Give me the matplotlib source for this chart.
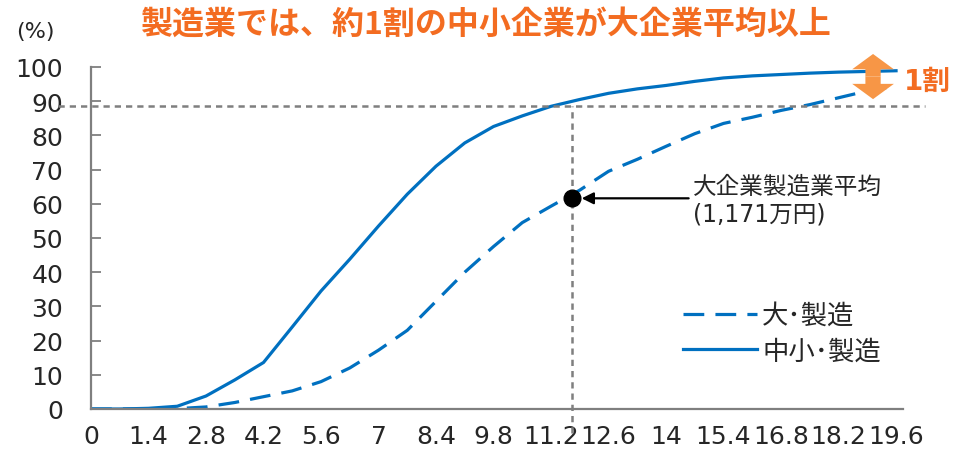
import matplotlib
matplotlib.use("Agg")
import matplotlib.pyplot as plt

plt.rcParams['font.family'] = ['DejaVu Sans', 'Noto Sans CJK JP']

# annual income (million yen) vs cumulative share (%)
income = [0, 0.7, 1.4, 2.1, 2.8, 3.5, 4.2, 4.9, 5.6, 6.3, 7.0, 7.7, 8.4, 9.1, 9.8,
          10.5, 11.2, 11.9, 12.6, 13.3, 14.0, 14.7, 15.4, 16.1, 16.8, 17.5, 18.2, 18.9, 19.6]
large = [0, 0, 0, 0.1, 0.6, 1.9, 3.6, 5.3, 8.0, 12.0, 17.2, 23.0, 31.5, 40.0, 47.5,
         54.5, 59.3, 64.0, 69.5, 73.0, 76.8, 80.5, 83.5, 85.3, 87.3, 89.0, 91.0, 93.0, 94.5]
small = [0, 0, 0.2, 0.8, 3.8, 8.5, 13.6, 24.0, 34.5, 43.8, 53.5, 62.8, 71.0, 77.8, 82.6,
         85.7, 88.5, 90.5, 92.3, 93.6, 94.6, 95.8, 96.8, 97.4, 97.8, 98.2, 98.5, 98.7, 98.9]

xticks = [0, 1.4, 2.8, 4.2, 5.6, 7, 8.4, 9.8, 11.2, 12.6, 14, 15.4, 16.8, 18.2, 19.6]
xlabels = ['0', '1.4', '2.8', '4.2', '5.6', '7', '8.4', '9.8', '11.2', '12.6', '14',
           '15.4', '16.8', '18.2', '19.6']
yticks = [0, 10, 20, 30, 40, 50, 60, 70, 80, 90, 100]

avg_x = 11.71   # 大企業製造業平均 1,171万円
avg_y = 61.6
level = 88.7     # share of SMEs below the large-firm average
gap_top = 103.8
gap_bot = 90.6

blue = '#0070C0'
grey = '#7F7F7F'
orange = '#F36C21'
light_orange = '#F79646'
txt = '#262626'

fig = plt.figure(figsize=(9.57, 4.6), dpi=100)
ax = fig.add_axes([0.0951, 0.1087, 0.8485, 0.7435])

ax.plot(income, large, color=blue, lw=2.3, dashes=(6.5, 3.5), label='大･製造')
ax.plot(income, small, color=blue, lw=2.3, label='中小･製造')

# reference lines
ax.plot([-0.8, 20.3], [level, level], color=grey, lw=1.8, dashes=(2.5, 2), clip_on=False)
ax.plot([avg_x, avg_x], [-7, level], color=grey, lw=1.8, dashes=(2.5, 2), clip_on=False)

ax.plot([avg_x], [avg_y], 'o', color='black', ms=12, zorder=5)
ax.annotate('', xy=(avg_x, avg_y), xytext=(84, 0), textcoords='offset points',
            arrowprops=dict(arrowstyle='-|>,head_length=0.7,head_width=0.35',
                            color='black', lw=1.6, shrinkA=0, shrinkB=7))
ax.annotate('大企業製造業平均\n(1,171万円)', xy=(avg_x, avg_y), xytext=(87, -1),
            textcoords='offset points', va='center', ha='left', fontsize=17,
            color=txt, linespacing=1.2)

# orange double arrow
mid = (gap_top + gap_bot) / 2
for end in (gap_top, gap_bot):
    ax.annotate('', xy=(19.04, end), xytext=(19.04, mid),
                arrowprops=dict(arrowstyle='simple,head_length=0.55,head_width=1.5,tail_width=0.55',
                                color=light_orange, lw=0, shrinkA=0, shrinkB=0,
                                mutation_scale=20),
                annotation_clip=False)
ax.text(19.8, 95.9, '1割', color=orange, fontsize=20, fontweight='bold',
        va='center', ha='left', clip_on=False)

ax.set_xlim(0, 19.77)
ax.set_ylim(0, 100)
ax.set_xticks(xticks)
ax.set_xticklabels(xlabels)
ax.set_yticks(yticks)
ax.tick_params(axis='x', length=0, pad=11, labelsize=18, colors=txt)
ax.tick_params(axis='y', direction='in', length=7, width=1.3, color=grey, pad=20,
               labelsize=18, labelcolor=txt)
for s in ('top', 'right'):
    ax.spines[s].set_visible(False)
for s in ('left', 'bottom'):
    ax.spines[s].set_color(grey)
    ax.spines[s].set_linewidth(1.6)

leg = ax.legend(loc='upper left', bbox_to_anchor=(0.729, 0.31), frameon=False,
                fontsize=19, handlelength=2.8, handletextpad=0.2, borderpad=0,
                borderaxespad=0, labelspacing=0.35)
for t in leg.get_texts():
    t.set_color(txt)

fig.text(0.037, 0.930, '(%)', fontsize=16, color=txt, ha='center', va='center')
fig.text(0.508, 0.946, '製造業では、約1割の中小企業が大企業平均以上', fontsize=23,
         fontweight='bold', color=orange, ha='center', va='center',
         family=['Noto Sans CJK JP', 'DejaVu Sans'])

fig.savefig('out.png', dpi=100)
